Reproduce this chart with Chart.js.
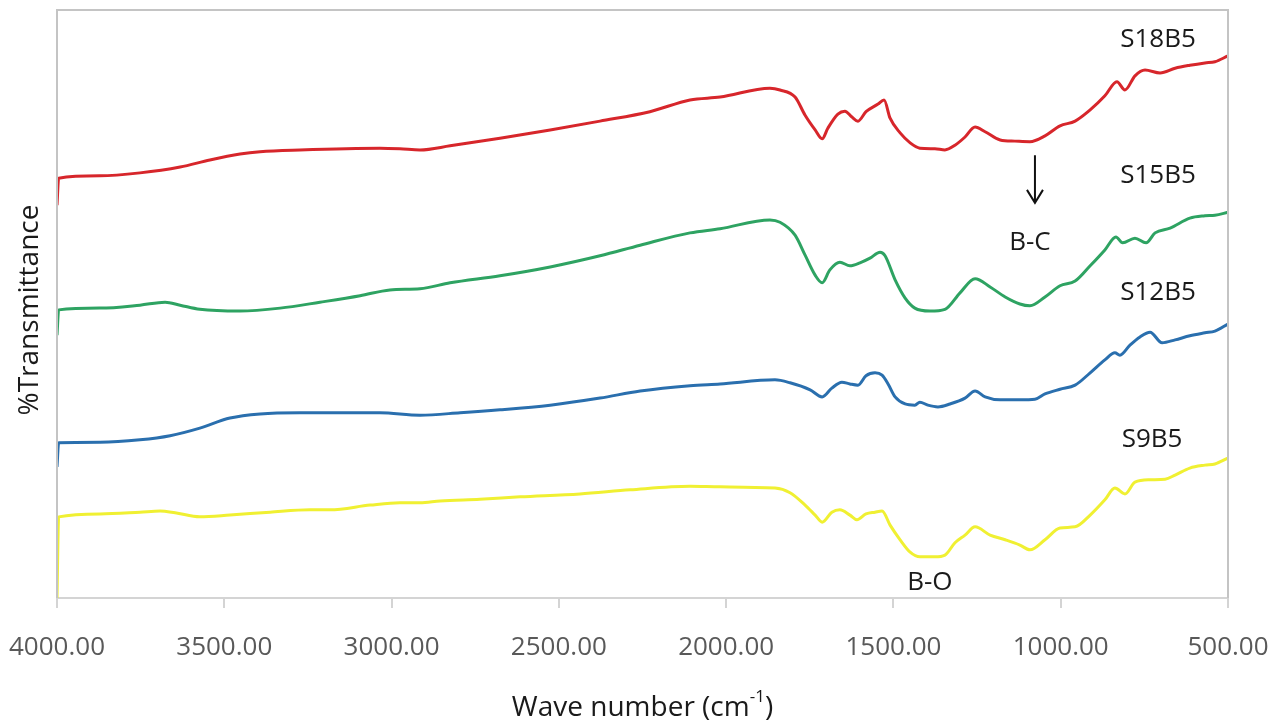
<!DOCTYPE html>
<html>
<head>
<meta charset="utf-8">
<title>FTIR spectra</title>
<script src="https://cdn.jsdelivr.net/npm/chart.js@4/dist/chart.umd.min.js"></script>
<style>
  html, body { margin: 0; padding: 0; background: #ffffff; }
  #wrap { width: 1286px; height: 724px; }
</style>
</head>
<body>
<div id="wrap"><canvas id="chart" width="1286" height="724"></canvas></div>
<script>
// Wave numbers (cm^-1) and %Transmittance for each sample (curves offset for clarity)
const wnS18 = [4000, 3995, 3871, 3752, 3632, 3543, 3453, 3393, 3274, 3035, 2975, 2915, 2825, 2676, 2526, 2377, 2228, 2108, 2018, 1869, 1839, 1794, 1764, 1734, 1713, 1696, 1666, 1645, 1624, 1606, 1582, 1546, 1528, 1510, 1480, 1450, 1421, 1376, 1346, 1316, 1286, 1256, 1226, 1181, 1137, 1092, 1047, 1002, 957, 912, 868, 832, 808, 778, 748, 703, 658, 614, 569, 539, 500];
const tS18  = [66.8, 71.4, 71.8, 72.3, 73.3, 74.5, 75.5, 75.9, 76.2, 76.5, 76.4, 76.2, 76.9, 78.2, 79.6, 81.1, 82.7, 84.7, 85.2, 86.7, 86.4, 85.2, 82.1, 79.6, 78.1, 79.9, 82.3, 82.8, 81.8, 81.1, 82.7, 84.0, 84.7, 81.6, 79.1, 77.4, 76.5, 76.4, 76.2, 77.0, 78.4, 80.1, 79.3, 77.9, 77.7, 77.6, 78.6, 80.3, 81.1, 83.0, 85.4, 87.8, 86.4, 88.8, 89.8, 89.3, 90.1, 90.6, 91.0, 91.2, 92.2];

const wnS15 = [4000, 3995, 3871, 3752, 3677, 3632, 3573, 3453, 3333, 3214, 3094, 3005, 2915, 2825, 2676, 2526, 2377, 2257, 2108, 2018, 1869, 1839, 1794, 1764, 1734, 1713, 1690, 1660, 1630, 1600, 1570, 1540, 1525, 1495, 1465, 1436, 1391, 1346, 1301, 1256, 1211, 1166, 1122, 1092, 1047, 1002, 957, 912, 868, 835, 815, 778, 745, 718, 673, 614, 569, 539, 500];
const tS15  = [44.7, 49.0, 49.3, 49.8, 50.3, 49.8, 49.1, 48.8, 49.3, 50.3, 51.4, 52.4, 52.6, 53.6, 54.8, 56.3, 58.2, 60.0, 62.1, 62.8, 64.3, 63.9, 61.7, 58.3, 54.9, 53.6, 55.8, 57.1, 56.5, 57.0, 57.8, 58.8, 58.2, 54.1, 51.0, 49.3, 48.8, 49.1, 51.9, 54.3, 52.9, 51.2, 50.0, 49.7, 51.2, 53.1, 53.9, 56.5, 59.2, 61.4, 60.4, 61.2, 60.4, 62.1, 62.9, 64.6, 65.0, 65.1, 65.6];

const wnS12 = [4000, 3995, 3871, 3752, 3662, 3573, 3483, 3393, 3274, 3035, 2915, 2795, 2676, 2526, 2377, 2257, 2108, 2018, 1854, 1809, 1749, 1713, 1684, 1654, 1630, 1606, 1582, 1555, 1534, 1516, 1495, 1465, 1436, 1421, 1397, 1367, 1331, 1286, 1256, 1226, 1181, 1122, 1077, 1047, 1002, 957, 912, 868, 838, 823, 793, 763, 733, 697, 658, 614, 569, 539, 500];
const tS12  = [22.3, 26.4, 26.5, 26.9, 27.6, 28.9, 30.6, 31.3, 31.5, 31.5, 31.1, 31.5, 32.0, 32.8, 34.0, 35.2, 36.1, 36.4, 37.1, 36.6, 35.4, 34.2, 35.7, 36.7, 36.4, 36.2, 37.8, 38.3, 37.9, 36.4, 34.2, 33.0, 32.8, 33.3, 32.8, 32.5, 33.0, 34.0, 35.2, 34.2, 33.7, 33.7, 33.8, 34.7, 35.5, 36.2, 38.3, 40.5, 41.7, 41.3, 43.0, 44.4, 45.2, 43.4, 43.9, 44.6, 45.1, 45.4, 46.6];

const wnS9 = [4000, 3995, 3871, 3752, 3692, 3647, 3573, 3483, 3363, 3244, 3184, 3064, 2975, 2915, 2855, 2736, 2616, 2437, 2287, 2108, 2018, 1854, 1809, 1764, 1734, 1713, 1684, 1660, 1630, 1609, 1582, 1555, 1534, 1510, 1480, 1450, 1421, 1376, 1346, 1316, 1286, 1256, 1211, 1166, 1122, 1092, 1047, 1002, 957, 912, 868, 838, 808, 778, 733, 688, 658, 614, 569, 539, 500];
const tS9  = [0.0, 13.8, 14.3, 14.6, 14.8, 14.5, 13.8, 14.1, 14.6, 15.0, 15.0, 15.8, 16.2, 16.2, 16.5, 16.8, 17.2, 17.7, 18.4, 19.0, 18.9, 18.7, 17.9, 15.8, 14.1, 12.9, 14.6, 15.0, 14.1, 13.3, 14.3, 14.6, 14.8, 12.4, 9.9, 7.8, 7.0, 7.0, 7.3, 9.4, 10.7, 12.1, 10.7, 9.9, 9.0, 8.2, 9.9, 11.9, 12.1, 14.1, 16.7, 18.7, 17.7, 19.7, 20.1, 20.2, 20.9, 22.1, 22.6, 22.8, 23.8];

const seriesNames  = ['S18B5', 'S15B5', 'S12B5', 'S9B5'];
const seriesColors = ['#d7262b', '#2ea362', '#2a6fae', '#f0f032'];

// Tick values along the wave-number axis
const xTicks = [4000, 3500, 3000, 2500, 2000, 1500, 1000, 500];

// Text placed inside the plot, in data coordinates [wave number, %T]
const seriesLabelPos = [[709, 94.9], [709, 71.9], [709, 51.9], [727, 26.9]];
const bandLabels = [
  { text: 'B-C', at: [1092, 60.4] },
  { text: 'B-O', at: [1391, 2.6] }
];
const arrowBC = { x: 1077, from: 75.3, to: 67.2 };

const toPoints = (xs, ys) => xs.map((w, i) => ({ x: w, y: ys[i] }));
const seriesData = [toPoints(wnS18, tS18), toPoints(wnS15, tS15), toPoints(wnS12, tS12), toPoints(wnS9, tS9)];

const FONT = '"Open Sans", "Noto Sans", sans-serif';

const decorations = {
  id: 'decorations',
  afterDatasetsDraw(chart) {
    const { ctx, chartArea: a, scales } = chart;
    const xs = scales.x, ys = scales.y;
    ctx.save();

    // frame: top, left and right edges (bottom edge is the x axis line)
    ctx.strokeStyle = '#c4c4c4';
    ctx.lineWidth = 2;
    ctx.beginPath();
    ctx.moveTo(a.left, a.bottom);
    ctx.lineTo(a.left, a.top);
    ctx.lineTo(a.right, a.top);
    ctx.lineTo(a.right, a.bottom);
    ctx.stroke();

    // series names
    ctx.fillStyle = '#1a1a1a';
    ctx.font = '26px ' + FONT;
    ctx.textAlign = 'center';
    ctx.textBaseline = 'middle';
    seriesNames.forEach((name, i) => {
      const [w, t] = seriesLabelPos[i];
      ctx.fillText(name, xs.getPixelForValue(w), ys.getPixelForValue(t));
    });

    // band assignments
    bandLabels.forEach(b => {
      ctx.fillText(b.text, xs.getPixelForValue(b.at[0]), ys.getPixelForValue(b.at[1]));
    });

    // arrow pointing at the B-C band
    const ax = xs.getPixelForValue(arrowBC.x);
    const ay0 = ys.getPixelForValue(arrowBC.from);
    const ay1 = ys.getPixelForValue(arrowBC.to);
    ctx.strokeStyle = '#111111';
    ctx.lineWidth = 2;
    ctx.beginPath();
    ctx.moveTo(ax, ay0);
    ctx.lineTo(ax, ay1);
    ctx.moveTo(ax - 8, ay1 - 13);
    ctx.lineTo(ax, ay1);
    ctx.lineTo(ax + 8, ay1 - 13);
    ctx.stroke();

    // y axis title
    ctx.save();
    ctx.translate(30, (a.top + a.bottom) / 2 + 6);
    ctx.rotate(-Math.PI / 2);
    ctx.font = '28px ' + FONT;
    ctx.fillText('%Transmittance', 0, 0);
    ctx.restore();

    // x axis title with superscript
    const main = 'Wave number (cm', sup = '-1', tail = ')';
    ctx.font = '28px ' + FONT;
    const wMain = ctx.measureText(main).width;
    const wTail = ctx.measureText(tail).width;
    ctx.font = '17px ' + FONT;
    const wSup = ctx.measureText(sup).width;
    const total = wMain + wSup + wTail;
    const cx = (a.left + a.right) / 2;
    let x0 = cx - total / 2;
    const yb = 716;
    ctx.textAlign = 'left';
    ctx.textBaseline = 'alphabetic';
    ctx.font = '28px ' + FONT;
    ctx.fillText(main, x0, yb);
    ctx.font = '17px ' + FONT;
    ctx.fillText(sup, x0 + wMain, yb - 14);
    ctx.font = '28px ' + FONT;
    ctx.fillText(tail, x0 + wMain + wSup, yb);

    ctx.restore();
  }
};

new Chart(document.getElementById('chart'), {
  type: 'line',
  data: {
    datasets: seriesNames.map((name, i) => ({
      label: name,
      data: seriesData[i],
      borderColor: seriesColors[i],
      borderWidth: 3,
      pointRadius: 0,
      fill: false,
      cubicInterpolationMode: 'monotone'
    }))
  },
  options: {
    responsive: false,
    animation: false,
    layout: { padding: { left: 57, right: 58, top: 10, bottom: 0 } },
    plugins: { legend: { display: false }, tooltip: { enabled: false } },
    scales: {
      x: {
        type: 'linear',
        reverse: true,
        min: 500,
        max: 4000,
        afterBuildTicks(scale) { scale.ticks = xTicks.map(v => ({ value: v })); },
        afterFit(scale) {
          scale.height = 126;
          // the outer labels fit inside the layout padding already
          scale.paddingLeft = 0;
          scale.paddingRight = 0;
        },
        ticks: {
          autoSkip: false,
          maxRotation: 0,
          padding: 24,
          color: '#595959',
          font: { family: FONT, size: 26 },
          callback: v => Number(v).toFixed(2)
        },
        grid: { drawOnChartArea: false, drawTicks: true, tickLength: 10, color: '#d4d4d4', lineWidth: 2 },
        border: { display: true, color: '#d4d4d4', width: 2 }
      },
      y: {
        display: false,
        min: 0,
        max: 100
      }
    }
  },
  plugins: [decorations]
});
</script>
</body>
</html>
